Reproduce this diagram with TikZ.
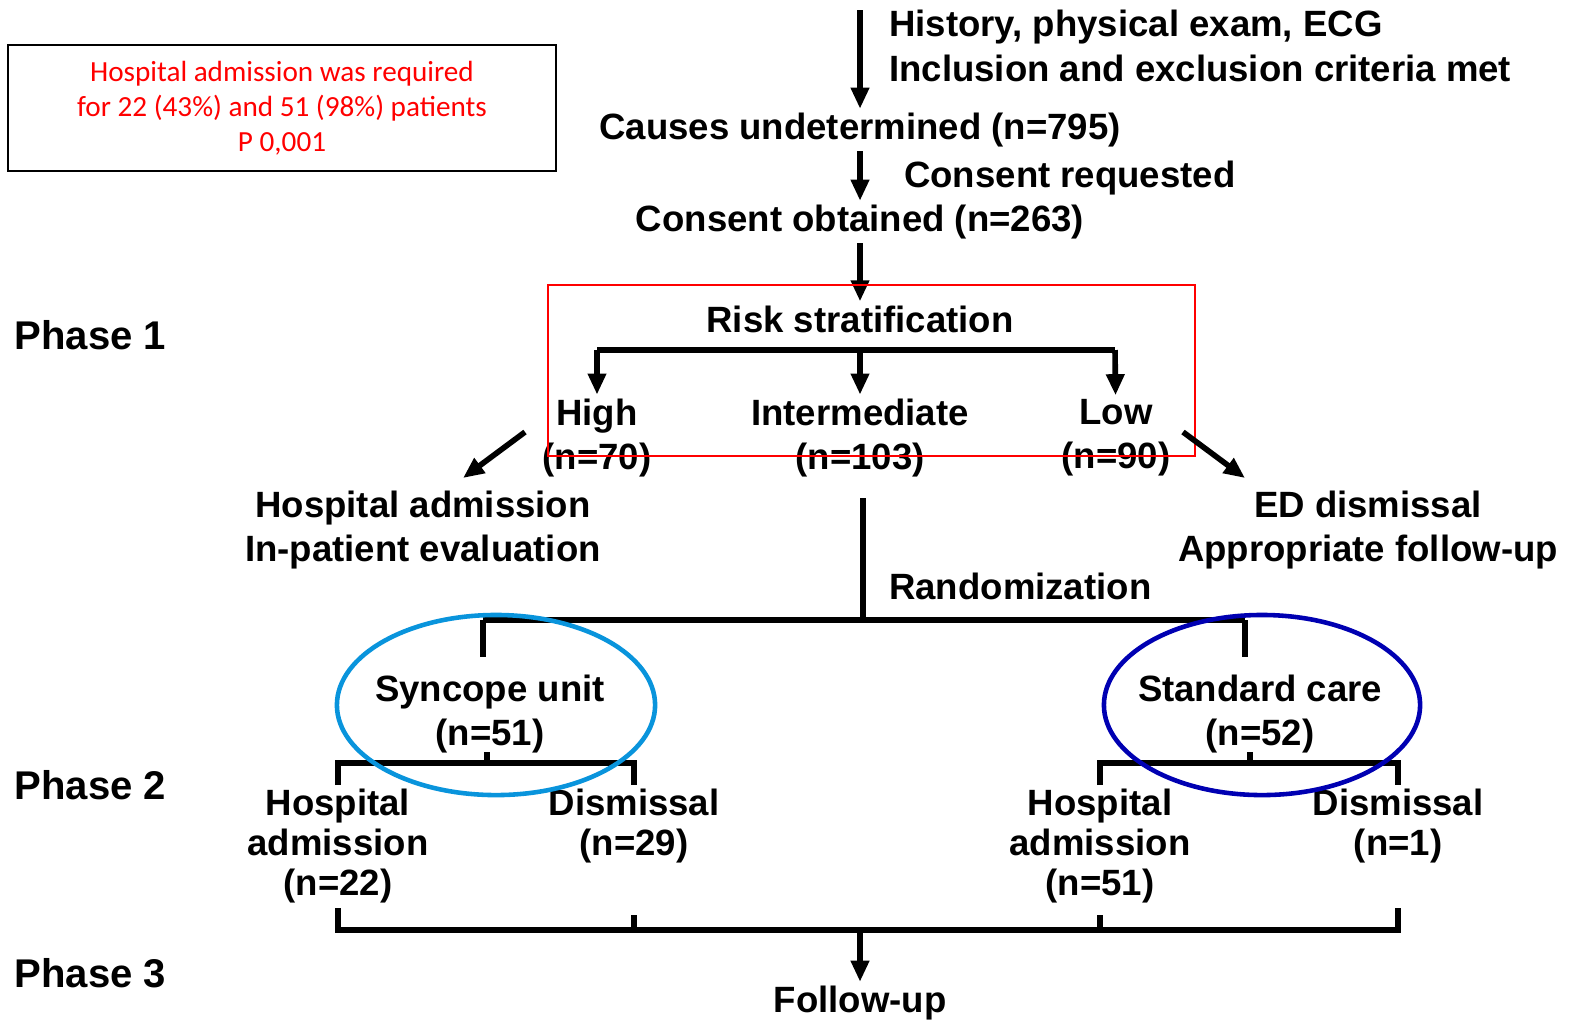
\documentclass[tikz,border=0pt]{standalone}
\usepackage{fontspec}
\setmainfont{Liberation Sans}
\newfontfamily\calfont{Carlito}
\usetikzlibrary{arrows.meta}

\begin{document}
\begin{tikzpicture}[x=0.01cm, y=-0.01cm,
	main/.style = {font=\bfseries\fontsize{10.4}{12.6}\selectfont, align=center, inner sep=1pt},
	tight/.style = {main, font=\bfseries\fontsize{10.4}{11.4}\selectfont},
	phase/.style = {font=\bfseries\fontsize{11.4}{13}\selectfont, anchor=west, inner sep=0pt},
	link/.style = {line width=1.6pt},
	arr/.style = {link, -{Triangle[length=6pt, width=5pt]}}]
			\useasboundingbox (0,0) rectangle (1577,1023);
			\node[draw, line width=0.6pt, minimum width=5.48cm, minimum height=1.26cm, text=red, align=center,
				font=\calfont\fontsize{8.3}{10}\selectfont] (note) at (282,108)
				{Hospital admission was required\\for 22 (43\%) and 51 (98\%) patients\\P 0,001};
			
			\coordinate (0) at (860,10);
			\node[main, anchor=west, align=left] (hist) at (885,46) {History, physical exam, ECG\\Inclusion and exclusion criteria met};
			\node[main] (1) at (860,130) {Causes undetermined (n=795)};
			\node[main, anchor=west] (req) at (900,178) {Consent requested};
			\node[main] (2) at (860,222) {Consent obtained (n=263)};
			\node[main] (3) at (860,319) {Risk stratification};
			\draw[arr] (0)--(1);
			\draw[arr] (1)--(2);
			\draw[arr] (2)--(3);
			
			\node[main] (high) at (597,438) {High\\(n=70)};
			\node[main] (mid) at (860,438) {Intermediate\\(n=103)};
			\node[main] (low) at (1116,438) {Low\\(n=90)};
			\coordinate (hl) at (597,350);
			\coordinate (hm) at (860,350);
			\coordinate (hr) at (1115,350);
			\draw[link] (hl)--(hr);
			\draw[arr] (hl)--(high);
			\draw[arr] (hm)--(mid);
			\draw[arr] (hr)--(low);
			\draw[red, line width=0.5pt] (548,285) rectangle (1195,456);
			
			\node[main] (adm) at (423,530) {Hospital admission\\In-patient evaluation};
			\node[main] (dis) at (1368,530) {ED dismissal\\Appropriate follow-up};
			\coordinate (a1) at (525,432);
			\coordinate (a2) at (463,478);
			\coordinate (b1) at (1183,432);
			\coordinate (b2) at (1245,478);
			\draw[arr] (a1)--(a2);
			\draw[arr] (b1)--(b2);
			
			\coordinate (r0) at (863,498);
			\coordinate (r1) at (863,620);
			\coordinate (rl) at (483,620);
			\coordinate (rr) at (1245,620);
			\node[main, anchor=west] (rand) at (885,586) {Randomization};
			\draw[link] (r0)--(r1);
			\draw[link] (rl)--(rr);
			\node[main] (su) at (490,714) {Syncope unit\\(n=51)};
			\node[main] (sc) at (1260,714) {Standard care\\(n=52)};
			\draw[link] (rl)--(483,657);
			\draw[link] (rr)--(1245,657);
			
			\node[tight] (su1) at (338,846) {Hospital\\admission\\(n=22)};
			\node[tight] (su2) at (634,826) {Dismissal\\(n=29)};
			\node[tight] (sc1) at (1100,846) {Hospital\\admission\\(n=51)};
			\node[tight] (sc2) at (1398,826) {Dismissal\\(n=1)};
			\draw[link] (487,752)--(487,763);
			\draw[link] (338,785)--(338,763)--(634,763)--(634,785);
			\draw[link] (1250,752)--(1250,763);
			\draw[link] (1100,785)--(1100,763)--(1398,763)--(1398,785);
			
			\node[main] (fu) at (860,1003) {Follow-up};
			\coordinate (f0) at (860,930);
			\draw[link] (338,908)--(338,930)--(1398,930)--(1398,908);
			\draw[link] (634,915)--(634,930);
			\draw[link] (1100,915)--(1100,930);
			\draw[arr] (f0)--(fu);
			
			\draw[cyan!80!blue, line width=1.3pt] (496,705) ellipse [x radius=1.59cm, y radius=0.9cm];
			\draw[blue!70!black, line width=1.3pt] (1262,705) ellipse [x radius=1.58cm, y radius=0.9cm];
			
			\node[phase] (p1) at (14,335) {Phase 1};
			\node[phase] (p2) at (14,785) {Phase 2};
			\node[phase] (p3) at (14,973) {Phase 3};
			
			\end{tikzpicture}
\end{document}
